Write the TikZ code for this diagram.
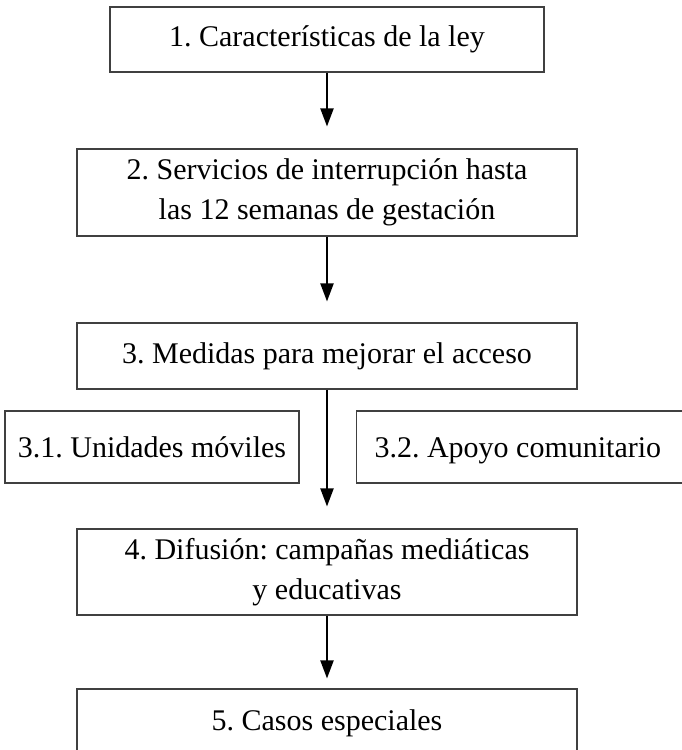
\documentclass[tikz,border=0pt]{standalone}
\usepackage{fontspec}
\setmainfont{Liberation Serif}
\usetikzlibrary{arrows.meta}
\frenchspacing

\begin{document}
\begin{tikzpicture}[x=1pt,y=-1pt,
    box/.style={draw=black!75,line width=1.1pt,inner sep=0pt,align=center,
      font=\fontsize{30}{40}\selectfont,minimum width=500pt},
    sidebox/.style={box,minimum height=72pt,text height=20pt,text depth=0pt},
    arr/.style={line width=2pt,-{Triangle[length=18pt,width=13pt]}}]
  \useasboundingbox (0,0) rectangle (682,750);
  % main column
  \node[box,minimum width=434pt,minimum height=65pt] (b1) at (327,39.5) {1. Características de la ley};
  \node[box,minimum height=87pt] (b2) at (327,192.5) {2. Servicios de interrupción hasta\\las 12 semanas de gestación};
  \node[box,minimum height=66pt] (b3) at (327,356) {3. Medidas para mejorar el acceso};
  \node[box,minimum height=86pt] (b4) at (327,572) {4. Difusión: campañas mediáticas\\y educativas};
  \node[box,minimum height=68pt] (b5) at (327,723) {5. Casos especiales};
  % side boxes
  \node[sidebox,minimum width=294pt] (b31) at (152,447) {3.1. Unidades móviles};
  \node[sidebox,anchor=west,minimum width=0pt,inner xsep=18pt] (b32) at (356,447) {3.2. Apoyo comunitario\hspace{30pt}};
  % arrows
  \draw[arr,shorten >=22pt] (b1.south) -- (b2.north);
  \draw[arr,shorten >=21pt] (b2.south) -- (b3.north);
  \draw[arr,shorten >=22pt] (b3.south) -- (b4.north);
  \draw[arr,shorten >=10pt] (b4.south) -- (b5.north);
\end{tikzpicture}
\end{document}
